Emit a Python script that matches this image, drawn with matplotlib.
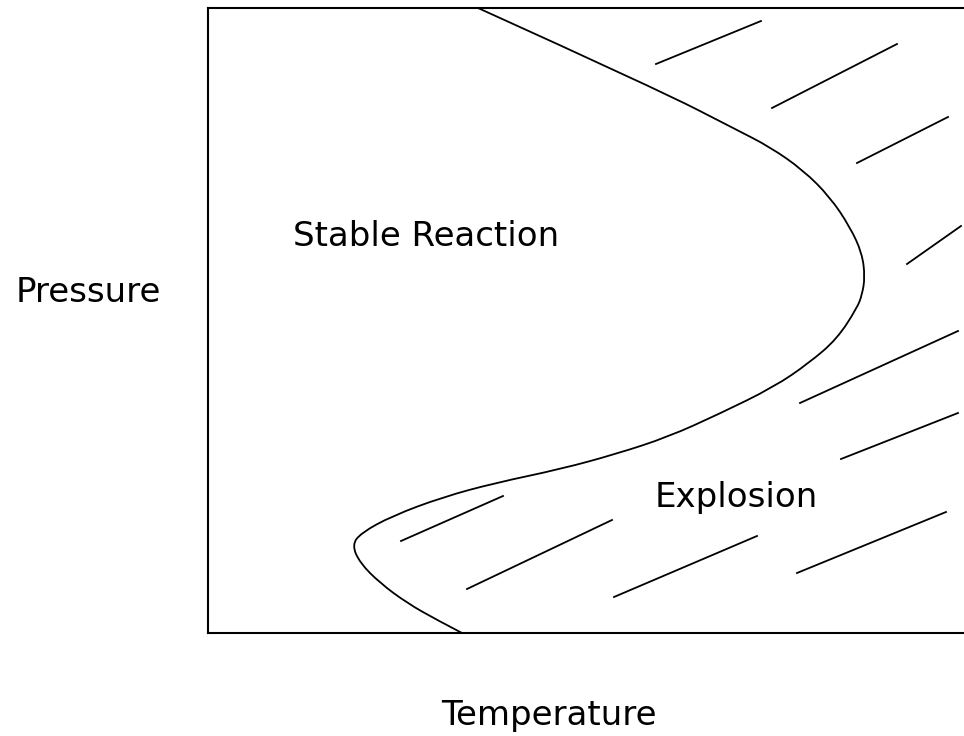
import matplotlib
matplotlib.use("Agg")
import matplotlib.pyplot as plt
from matplotlib.path import Path
from matplotlib.patches import PathPatch

# boundary between the two regions (temperature, pressure), arbitrary units
boundary_T = [270, 449, 529, 562, 595, 622, 642, 654, 657, 654, 649, 629, 601,
              566, 511, 460, 408, 353, 287, 235, 184, 153, 144, 152, 172, 199,
              229, 254]
boundary_P = [625, 544, 503, 486, 463, 436, 406, 380, 356, 338, 325, 294, 270,
              246, 219, 196, 179, 164, 150, 136, 117, 100, 88, 70, 50, 30,
              13, 0]

# hatch strokes in the explosion region: (T0, P0, T1, P1)
hatches = [
    (448, 569, 553, 612),
    (564, 525, 689, 589),
    (649, 470, 740, 516),
    (699, 369, 753, 407),
    (592, 230, 750, 302),
    (633, 174, 750, 220),
    (193, 92, 295, 137),
    (259, 44, 404, 113),
    (406, 36, 549, 97),
    (589, 60, 738, 121),
]

region_labels = ["Stable Reaction", "Explosion"]
region_pos = [(218, 397), (528, 136)]

W, H = 964, 736
fig = plt.figure(figsize=(W / 100, H / 100), dpi=100)
ax = fig.add_axes([208 / W, (H - 633) / H, 756 / W, 625 / H])

# smooth boundary: read points used as quadratic bezier control points
pts = list(zip(boundary_T, boundary_P))
verts = [pts[0]]
codes = [Path.MOVETO]
for i in range(1, len(pts) - 1):
    mid = ((pts[i][0] + pts[i + 1][0]) / 2, (pts[i][1] + pts[i + 1][1]) / 2)
    end = pts[-1] if i == len(pts) - 2 else mid
    verts += [pts[i], end]
    codes += [Path.CURVE3, Path.CURVE3]
ax.add_patch(PathPatch(Path(verts, codes), fill=False, edgecolor="black", lw=1.3))

for t0, p0, t1, p1 in hatches:
    ax.plot([t0, t1], [p0, p1], color="black", lw=1.3)

for txt, (t, p) in zip(region_labels, region_pos):
    ax.text(t, p, txt, fontsize=24.5, ha="center", va="center")

ax.set_xlim(0, 756)
ax.set_ylim(0, 625)
ax.set_xticks([])
ax.set_yticks([])
ax.spines["right"].set_visible(False)
for s in ["left", "top", "bottom"]:
    ax.spines[s].set_linewidth(1.5)

fig.text(88 / W, 1 - 292 / H, "Pressure", fontsize=24.5, ha="center", va="center")
fig.text(549 / W, 1 - 716 / H, "Temperature", fontsize=24.5, ha="center", va="center")

fig.savefig("out.png", dpi=100)
